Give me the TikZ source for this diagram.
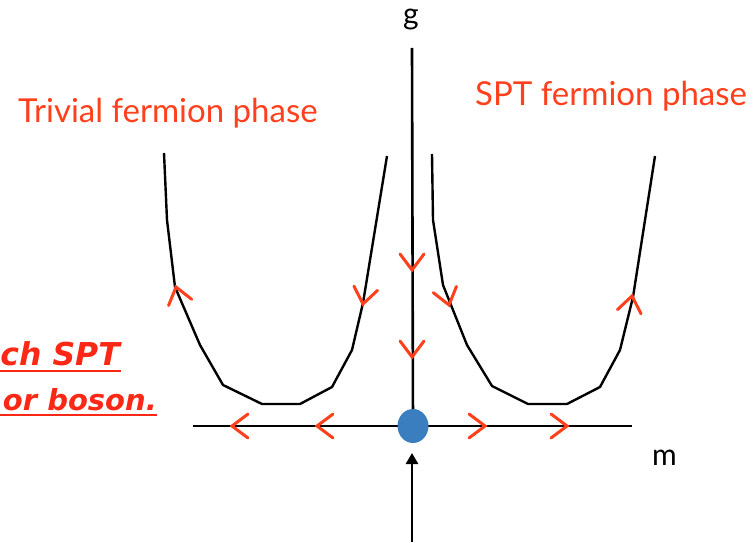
\documentclass[tikz,border=0pt]{standalone}
\usepackage{fontspec}
\setmainfont{Lato}
\newfontfamily\boldobl{DejaVu Sans}
\usetikzlibrary{arrows.meta,shapes.geometric}
\definecolor{flow}{RGB}{255,64,28}
\definecolor{redtxt}{RGB}{250,40,20}
\definecolor{dotblue}{RGB}{58,126,192}
\tikzset{
  curve/.style={line width=2.4pt, black, line join=round},
  axis/.style={line width=2.6pt, black},
  chevline/.style={flow, line width=3pt, line cap=round, line join=miter},
  phase/.style={text=flow, inner sep=0pt, font=\fontsize{33}{38}\selectfont},
  axlabel/.style={text=black, inner sep=0pt, font=\fontsize{30}{34}\selectfont},
  redlabel/.style={text=redtxt, inner sep=0pt, font=\boldobl\bfseries\itshape\fontsize{#1}{35}\selectfont},
  fixedpt/.style={ellipse, fill=dotblue, draw=none, inner sep=0pt, minimum width=31pt, minimum height=34pt},
  chev/.pic={\draw[chevline] (-16,12) -- (0,0) -- (-16,-12);}
}
\begin{document}
\begin{tikzpicture}[x=1pt,y=1pt]
\useasboundingbox (0,0) rectangle (753,542);
% coordinates
\coordinate (gtop) at (412,494);
\coordinate (origin) at (413,116);
\coordinate (hl) at (193,116);
\coordinate (hr) at (632,116);
\coordinate (bot) at (412,0);
\coordinate (bottip) at (412,89);
% axes
\draw[axis] (hl) -- (hr);
\draw[axis] (gtop) -- (origin);
\draw[axis, -{Triangle[length=11pt,width=12pt]}] (bot) -- (bottip);
% curves
\draw[curve] (164,389) -- (167,322) -- (175,255) -- (200,197) -- (223,157) -- (262,138) -- (300,138) -- (332,155) -- (352,192) -- (363,239) -- (387,386);
\draw[curve] (432,388) -- (433,322) -- (443,257) -- (467,197) -- (492,156) -- (528,138) -- (567,138) -- (600,155) -- (620,192) -- (633,245) -- (655,386);
% fixed point
\node[fixedpt] (dot) at (origin) {};
% chevrons on axes
\pic[rotate=-90] at (412,272) {chev};
\pic[rotate=-90] at (412,185) {chev};
\pic[rotate=180] at (232,116) {chev};
\pic[rotate=180] at (317,116) {chev};
\pic at (485,116) {chev};
\pic at (567,116) {chev};
% chevrons on curves
\pic[rotate=105] at (176,255) {chev};
\pic[rotate=-100] at (363,238) {chev};
\pic[rotate=-75] at (449,237) {chev};
\pic[rotate=80] at (632,246) {chev};
% labels
\node[axlabel, anchor=base] (g) at (411,517) {g};
\node[axlabel, anchor=base west] (m) at (652,77) {m};
\node[phase, anchor=base west] (triv) at (18,419) {Trivial fermion phase};
\node[phase, anchor=base west] (spt) at (475,436) {SPT fermion phase};
\node[redlabel=31.5, anchor=base east] (l1) at (120,177) {ch SPT};
\node[redlabel=29, anchor=base east] (l2) at (157,132) {or boson.};
\draw[redtxt, line width=2pt] (0,171) -- (121,171);
\draw[redtxt, line width=2pt] (0,127) -- (157,127);
\end{tikzpicture}
\end{document}
